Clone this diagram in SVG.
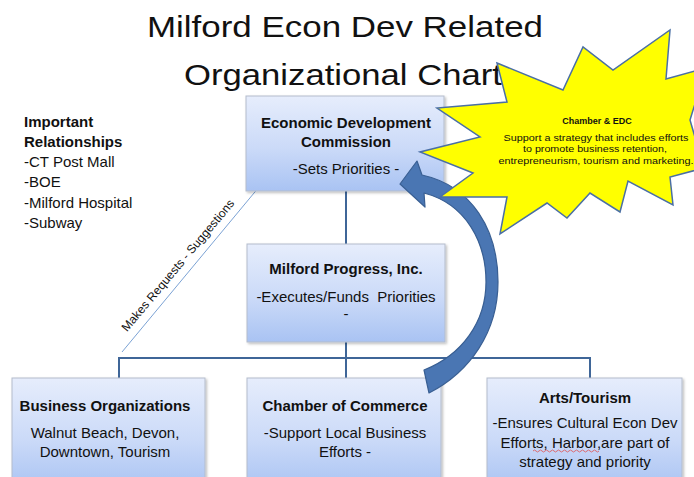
<svg xmlns="http://www.w3.org/2000/svg" width="694" height="477" viewBox="0 0 694 477">
  <defs>
    <linearGradient id="boxFill" x1="0" y1="0" x2="0" y2="1">
      <stop offset="0" stop-color="#e6edfc"/>
      <stop offset="0.55" stop-color="#cbdaf8"/>
      <stop offset="1" stop-color="#a9c3f3"/>
    </linearGradient>
    <filter id="shadow" x="-5%" y="-5%" width="115%" height="115%">
      <feDropShadow dx="1.5" dy="1.5" stdDeviation="1.2" flood-color="#000" flood-opacity="0.25"/>
    </filter>
    <marker id="openHead" viewBox="0 0 10 10" refX="9" refY="5" markerWidth="9" markerHeight="9" orient="auto" markerUnits="userSpaceOnUse">
      <path d="M1 1 L9 5 L1 9" fill="none" stroke="#7ba2d4" stroke-width="1.1"/>
    </marker>
  </defs>
  <style>
    text { font-family: "Liberation Sans", Arial, sans-serif; fill: #111; }
    .title { font-size: 30px; text-anchor: middle; }
    .hd { font-size: 15px; font-weight: bold; text-anchor: middle; }
    .bd { font-size: 15px; text-anchor: middle; }
    .side { font-size: 15px; }
    .sideb { font-size: 15px; font-weight: bold; }
    .box { fill: url(#boxFill); stroke: #b4bccb; stroke-width: 1; filter: url(#shadow); }
    .link { fill: none; stroke: #3f6698; stroke-width: 2; }
    .burst { fill: #ffff00; stroke: #4a6fa5; stroke-width: 1.5; stroke-linejoin: miter; }
    .bt { font-size: 9px; text-anchor: middle; }
  </style>

  <rect width="694" height="477" fill="#ffffff"/>

  <!-- heading -->
  <g id="title">
    <text class="title" x="345" y="37" textLength="396" lengthAdjust="spacingAndGlyphs">Milford Econ Dev Related</text>
    <text class="title" x="343" y="85" textLength="318" lengthAdjust="spacingAndGlyphs">Organizational Chart</text>
  </g>

  <!-- side list -->
  <g id="relationships">
    <text class="sideb" x="24" y="127">Important</text>
    <text class="sideb" x="24" y="147">Relationships</text>
    <text class="side" x="24" y="167">-CT Post Mall</text>
    <text class="side" x="24" y="187">-BOE</text>
    <text class="side" x="24" y="208">-Milford Hospital</text>
    <text class="side" x="24" y="228">-Subway</text>
  </g>

  <!-- tree connectors -->
  <g id="connectors">
    <path class="link" d="M346 191 V244"/>
    <path class="link" d="M346 342 V378"/>
    <path class="link" d="M119 358 H590"/>
    <path class="link" d="M119 357 V378"/>
    <path class="link" d="M590 357 V378"/>
    <path d="M122 352 L264 181" fill="none" stroke="#7ba2d4" stroke-width="1" marker-end="url(#openHead)"/>
    <text x="181" y="268" font-size="12" text-anchor="middle" textLength="168" lengthAdjust="spacingAndGlyphs" transform="rotate(-50 181 268)">Makes Requests - Suggestions</text>
  </g>

  <g id="edc">
    <rect class="box" x="246" y="96" width="198" height="95"/>
    <text class="hd" x="346" y="128">Economic Development</text>
    <text class="hd" x="346" y="147">Commission</text>
    <text class="bd" x="346" y="174">-Sets Priorities -</text>
  </g>

  <g id="mpi">
    <rect class="box" x="247" y="244" width="198" height="98"/>
    <text class="hd" x="346" y="274">Milford Progress, Inc.</text>
    <text class="bd" x="346" y="302" xml:space="preserve">-Executes/Funds  Priorities</text>
    <text class="bd" x="346" y="319">-</text>
  </g>

  <g id="business">
    <rect class="box" x="12" y="378" width="193" height="112"/>
    <text class="hd" x="105" y="411">Business Organizations</text>
    <text class="bd" x="105" y="438">Walnut Beach, Devon,</text>
    <text class="bd" x="105" y="457">Downtown, Tourism</text>
  </g>

  <g id="chamber">
    <rect class="box" x="247" y="378" width="194" height="112"/>
    <text class="hd" x="345" y="411">Chamber of Commerce</text>
    <text class="bd" x="345" y="438">-Support Local Business</text>
    <text class="bd" x="345" y="457">Efforts -</text>
  </g>

  <g id="arts">
    <rect class="box" x="487" y="378" width="195" height="112"/>
    <text class="hd" x="585" y="403">Arts/Tourism</text>
    <text class="bd" x="585" y="428">-Ensures Cultural Econ Dev</text>
    <text class="bd" x="585" y="448">Efforts, Harbor,are part of</text>
    <text class="bd" x="585" y="467">strategy and priority</text>
    <path d="M533 451 q1.5 -2 3 0 t3 0 t3 0 t3 0 t3 0 t3 0 t3 0 t3 0 t3 0 t3 0 t3 0 t3 0 t3 0 t3 0 t3 0 t3 0 t3 0 t3 0 t3 0 t3 0 t3 0 t3 0" fill="none" stroke="#e05050" stroke-width="0.8"/>
  </g>

  <!-- curved feedback arrow from the chamber back to the commission -->
  <g id="feedback">
    <path d="M424 370 L429 393 C470 372 498 332 498 282 C498 230 472 186 422 175 L417 161 L400 184 L425 207 L424 193 C466 204 486 242 486 282 C486 322 462 355 424 370 Z" fill="#4a76b3" stroke="#395f93" stroke-width="1.2" stroke-linejoin="round"/>
  </g>

  <!-- starburst callout -->
  <g id="callout">
    <polygon class="burst" points="497,63 563,90 583,47 613,70 670,30 666,79 706,68 690,120 704,168 670,177 673,205 628,181 620,212 590,193 567,218 547,203 500,234 507,197 440,197 473,173 420,152 480,137 437,108 507,102"/>
    <text class="bt" x="597" y="124" font-weight="bold">Chamber &amp; EDC</text>
    <text class="bt" x="596" y="141" textLength="185" lengthAdjust="spacingAndGlyphs">Support a strategy that includes efforts</text>
    <text class="bt" x="595" y="152" textLength="144" lengthAdjust="spacingAndGlyphs">to promote business retention,</text>
    <text class="bt" x="596" y="164" textLength="195" lengthAdjust="spacingAndGlyphs">entrepreneurism, tourism and marketing.</text>
  </g>
</svg>
